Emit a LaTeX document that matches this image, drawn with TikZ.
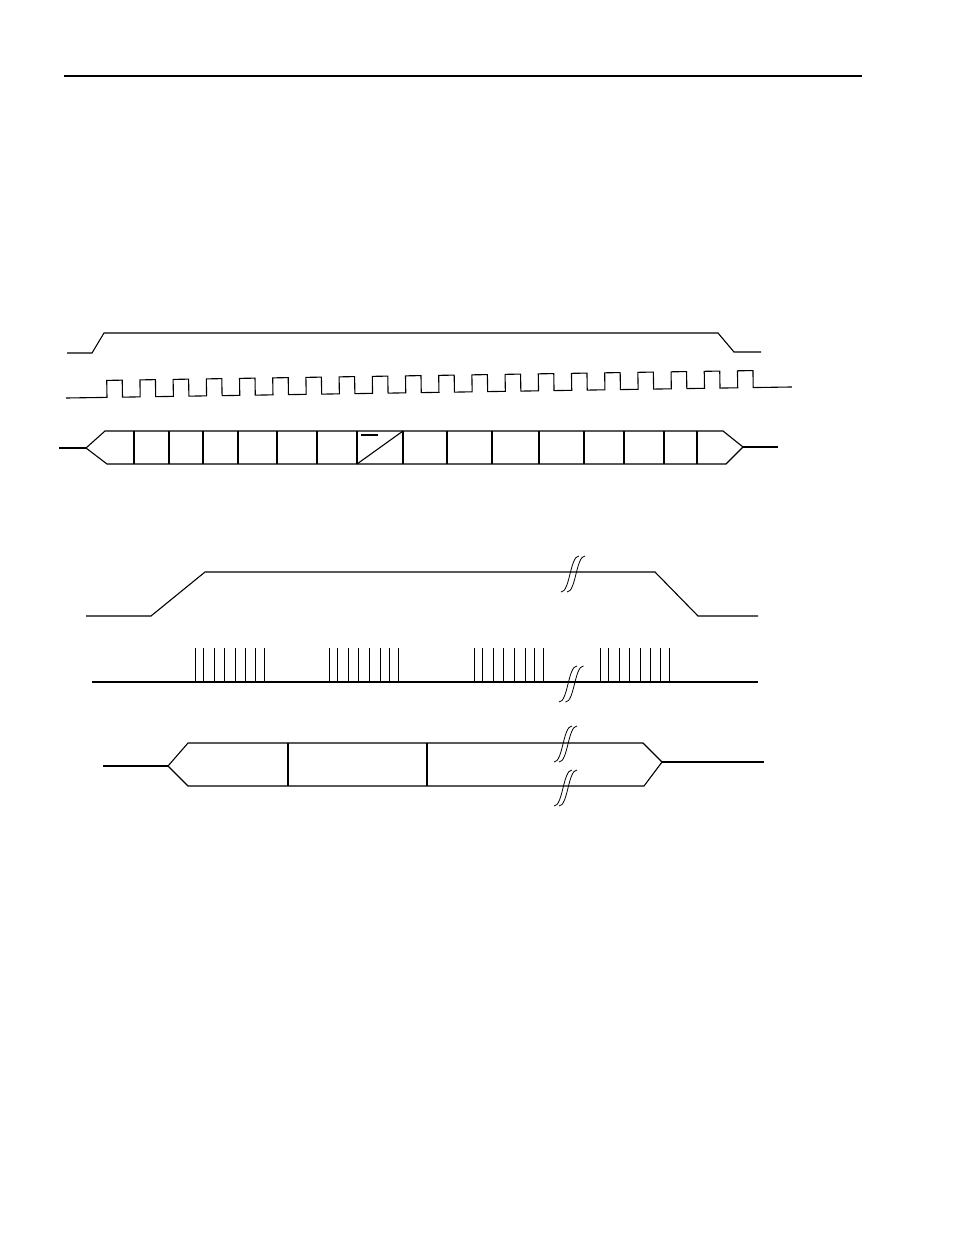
\documentclass[tikz,border=0pt]{standalone}
\begin{document}
\begin{tikzpicture}[x=1pt,y=-1pt,line width=1.1pt,
		breakmark/.style={line width=0.8pt}]
		\useasboundingbox (0,0) rectangle (954,1235);
		
		\draw (64,76) -- (862,76);
		
		% upper timing: enable, clock, data
		\draw (67,353) -- (92,353) -- (104,333) -- (718,333) -- (734,352) -- (761,352);
		
		\begin{scope}[rotate around={0.87:(66,398)}]
		\draw (66,398) -- (107,398)
			\foreach \i in {0,...,19} { -- ++(0,-17) -- ++(15.5,0) -- ++(0,17) -- ++(17.7,0) }
			-- (792,398);
		\end{scope}
		
		\draw (59,448) -- (86,448);
		\draw (86,448) -- (105,431) -- (723,431) -- (743,447) -- (726,464) -- (107,464) -- cycle;
		\draw (743,447) -- (778,447);
		\foreach \x in {134,169,203,238,277,317,357,403,447,492,539,584,624,664,697}
		\draw (\x,431) -- (\x,464);
		\draw (357,464) -- (403,431);
		\draw (361,435) -- (378,435);
		
		% lower timing with breaks
		\draw (86,616) -- (151,616) -- (205,572) -- (655,572) -- (698,616) -- (758,616);
		
		\draw (92,682) -- (758,682);
		\foreach \g in {195,329.3,474.3,600}
		\foreach \d in {0,8.3,19,29.3,40,50.7,60,69.3}
		\draw[line width=0.9pt] (\g+\d,682) -- (\g+\d,648);
		
		\draw (103,766) -- (168,766);
		\draw (168,766) -- (188,743) -- (643,743) -- (662,762) -- (644,786) -- (188,786) -- cycle;
		\draw (662,762) -- (764,762);
		\draw (288,743) -- (288,786);
		\draw (427,743) -- (427,786);
		
		\foreach \bx/\by/\s in {561/592/6,559/702/6.5,554/762/5,554/806/5}
		\foreach \k in {0,1}
		\draw[breakmark] (\bx+\k*\s,\by) .. controls (\bx+\k*\s+9,\by) and (\bx+\k*\s+9,\by-36) .. (\bx+\k*\s+18,\by-36);
		
	\end{tikzpicture}
\end{document}
